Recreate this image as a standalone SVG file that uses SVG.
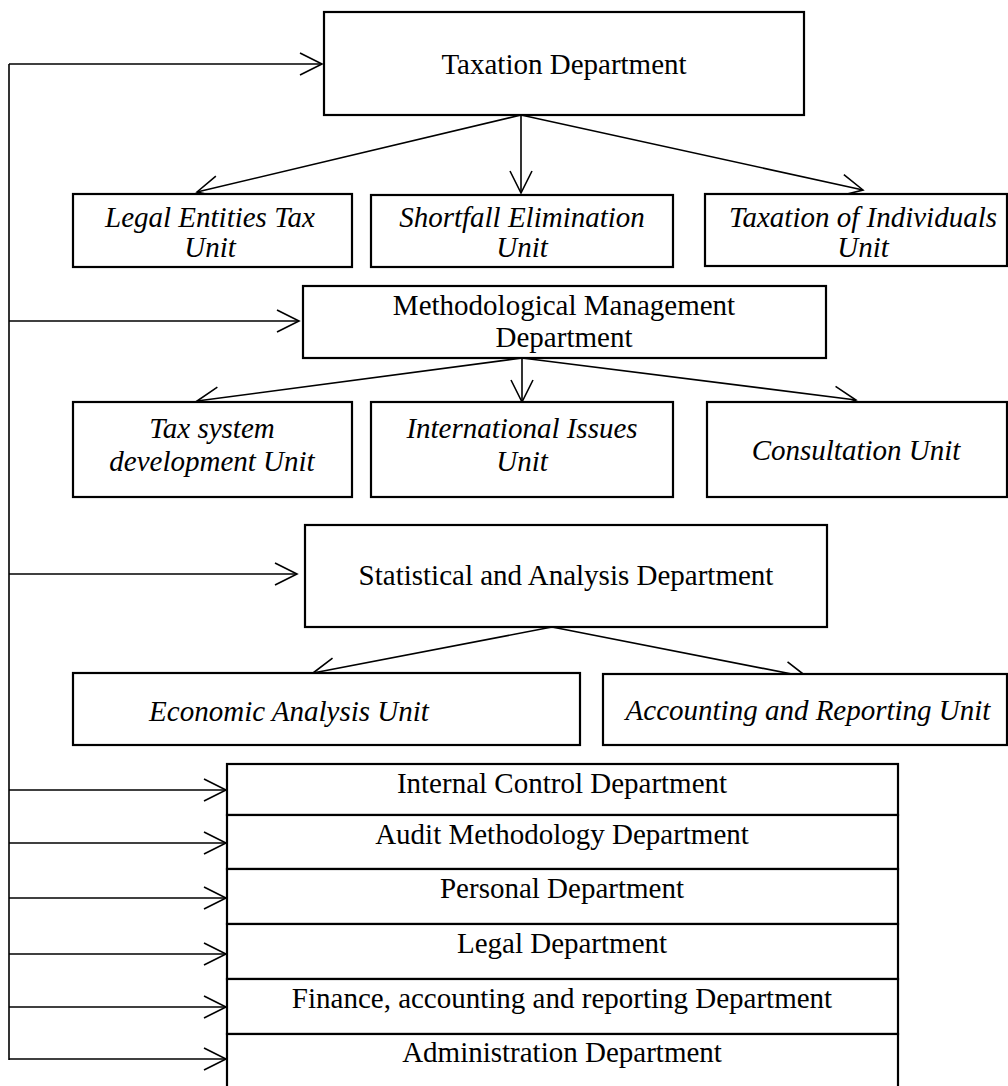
<svg xmlns="http://www.w3.org/2000/svg" width="1008" height="1086" viewBox="0 0 1008 1086">
<style>
  .box{fill:#fff;stroke:#000;stroke-width:2.2}
  .t{font-family:"Liberation Serif","Times New Roman",serif;font-size:29px;fill:#000;text-anchor:middle}
  .i{font-style:italic}
  .c{fill:none;stroke:#000;stroke-width:1.6}
</style>
<defs>
  <marker id="ah" markerUnits="userSpaceOnUse" viewBox="-24 -13 26 26" markerWidth="26" markerHeight="26" refX="0" refY="0" orient="auto" overflow="visible">
    <path d="M-22,-11 L0,0 L-22,11" fill="none" stroke="#000" stroke-width="1.6"/>
  </marker>
</defs>
<rect width="1008" height="1086" fill="#fff"/>

<g id="connectors">
  <path class="c" d="M9,64 V1060"/>
  <path class="c" d="M9,64 H322" marker-end="url(#ah)"/>
  <path class="c" d="M9,321 H299" marker-end="url(#ah)"/>
  <path class="c" d="M9,574 H297" marker-end="url(#ah)"/>
  <path class="c" d="M9,790 H226" marker-end="url(#ah)"/>
  <path class="c" d="M9,843 H226" marker-end="url(#ah)"/>
  <path class="c" d="M9,898 H226" marker-end="url(#ah)"/>
  <path class="c" d="M9,954 H226" marker-end="url(#ah)"/>
  <path class="c" d="M9,1007 H226" marker-end="url(#ah)"/>
  <path class="c" d="M9,1059 H226" marker-end="url(#ah)"/>

  <path class="c" d="M521,115 L197,192" marker-end="url(#ah)"/>
  <path class="c" d="M521,115 L521,193" marker-end="url(#ah)"/>
  <path class="c" d="M521,115 L863,190" marker-end="url(#ah)"/>

  <path class="c" d="M522,358 L197,401" marker-end="url(#ah)"/>
  <path class="c" d="M522,358 L522,402" marker-end="url(#ah)"/>
  <path class="c" d="M522,358 L856,400" marker-end="url(#ah)"/>

  <path class="c" d="M552,627 L313,673" marker-end="url(#ah)"/>
  <path class="c" d="M552,627 L807,677" marker-end="url(#ah)"/>
</g>

<g id="taxation-dept">
  <rect class="box" x="324" y="12" width="480" height="103"/>
  <text class="t" x="564" y="74">Taxation Department</text>
</g>
<g id="legal-entities-unit">
  <rect class="box" x="73" y="194" width="279" height="73"/>
  <text class="t i" x="210" y="227">Legal Entities Tax</text>
  <text class="t i" x="210" y="257">Unit</text>
</g>
<g id="shortfall-unit">
  <rect class="box" x="371" y="195" width="302" height="72"/>
  <text class="t i" x="522" y="227">Shortfall Elimination</text>
  <text class="t i" x="522" y="257">Unit</text>
</g>
<g id="individuals-unit">
  <rect class="box" x="705" y="194" width="302" height="72"/>
  <text class="t i" x="863" y="227">Taxation of Individuals</text>
  <text class="t i" x="863" y="257">Unit</text>
</g>

<g id="methodological-dept">
  <rect class="box" x="303" y="286" width="523" height="72"/>
  <text class="t" x="564" y="315">Methodological Management</text>
  <text class="t" x="564" y="347">Department</text>
</g>
<g id="tax-system-unit">
  <rect class="box" x="73" y="402" width="279" height="95"/>
  <text class="t i" x="212" y="438">Tax system</text>
  <text class="t i" x="212" y="471">development Unit</text>
</g>
<g id="international-unit">
  <rect class="box" x="371" y="402" width="302" height="95"/>
  <text class="t i" x="522" y="438">International Issues</text>
  <text class="t i" x="522" y="471">Unit</text>
</g>
<g id="consultation-unit">
  <rect class="box" x="707" y="402" width="300" height="95"/>
  <text class="t i" x="856" y="460">Consultation Unit</text>
</g>

<g id="statistical-dept">
  <rect class="box" x="305" y="525" width="522" height="102"/>
  <text class="t" x="566" y="585">Statistical and Analysis Department</text>
</g>
<g id="economic-unit">
  <rect class="box" x="73" y="673" width="507" height="72"/>
  <text class="t i" x="289" y="721">Economic Analysis Unit</text>
</g>
<g id="accounting-unit">
  <rect class="box" x="603" y="674" width="404" height="71"/>
  <text class="t i" x="808" y="720">Accounting and Reporting Unit</text>
</g>

<g id="internal-control-dept">
  <rect class="box" x="227" y="764" width="671" height="51"/>
  <text class="t" x="562" y="793">Internal Control Department</text>
</g>
<g id="audit-methodology-dept">
  <rect class="box" x="227" y="815" width="671" height="54"/>
  <text class="t" x="562" y="844">Audit Methodology Department</text>
</g>
<g id="personal-dept">
  <rect class="box" x="227" y="869" width="671" height="55"/>
  <text class="t" x="562" y="898">Personal Department</text>
</g>
<g id="legal-dept">
  <rect class="box" x="227" y="924" width="671" height="55"/>
  <text class="t" x="562" y="953">Legal Department</text>
</g>
<g id="finance-dept">
  <rect class="box" x="227" y="979" width="671" height="55"/>
  <text class="t" x="562" y="1008">Finance, accounting and reporting Department</text>
</g>
<g id="administration-dept">
  <rect class="box" x="227" y="1034" width="671" height="60"/>
  <text class="t" x="562" y="1062">Administration Department</text>
</g>
</svg>
